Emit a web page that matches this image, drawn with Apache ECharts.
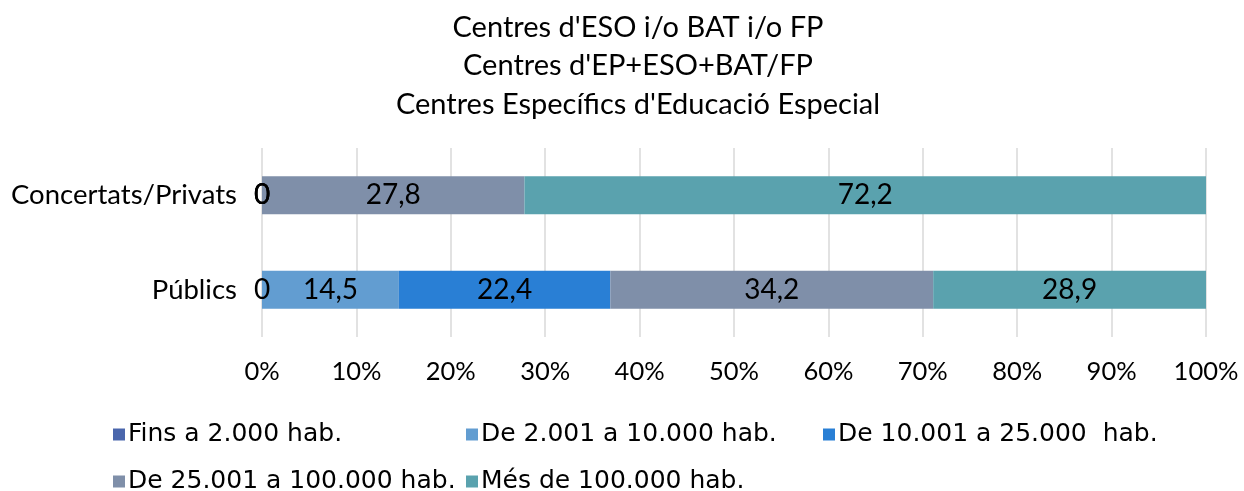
<!DOCTYPE html>
<html>
<head>
<meta charset='utf-8' />
<title></title>
<style>
html, body { margin: 0; padding: 0; background: #fff; }
#chart { width: 1244px; height: 491px; }
</style>
</head>
<body>
<div id="chart"></div>
<script src="https://cdn.jsdelivr.net/npm/echarts@6/dist/echarts.min.js"></script>
<script>
// dades
var categories = ['Públics', 'Concertats/Privats'];
var seriesNames = ['Fins a 2.000 hab.', 'De 2.001 a 10.000 hab.', 'De 10.001 a 25.000  hab.', 'De 25.001 a 100.000 hab.', 'Més de 100.000 hab.'];
var fins2000 = [0, 0];
var de2001 = [14.5, 0];
var de10001 = [22.4, 0];
var de25001 = [34.2, 27.8];
var mesDe100000 = [28.9, 72.2];
var xTicks = [0, 10, 20, 30, 40, 50, 60, 70, 80, 90, 100];

var colors = ['#4a66ac', '#629dd1', '#297fd5', '#7f8fa9', '#5aa2ae'];
var values = [fins2000, de2001, de10001, de25001, mesDe100000];
var fontA = 'Lato';          // títol, categories, etiquetes
var fontB = 'DejaVu Sans';   // llegenda

var myChart = echarts.init(document.getElementById('chart'));

var series = [];
for (var i = 0; i < seriesNames.length; i++) {
  series.push({
    name: seriesNames[i],
    type: 'bar',
    stack: 'total',
    barWidth: 38,
    data: values[i],
    itemStyle: { color: colors[i] },
    label: {
      show: true,
      position: 'inside',
      color: '#000',
      fontFamily: fontA,
      fontSize: 28,
      formatter: function (p) { return String(p.value).replace('.', ','); }
    }
  });
}

// llegenda en dues files
var legendPos = [[108, 417], [461, 417], [818, 417], [108, 464], [461, 464]];
var legends = [];
for (var j = 0; j < seriesNames.length; j++) {
  legends.push({
    data: [seriesNames[j]],
    left: legendPos[j][0],
    top: legendPos[j][1],
    itemWidth: 12,
    itemHeight: 12,
    itemGap: 4,
    icon: 'rect',
    textStyle: { fontFamily: fontB, fontSize: 25, color: '#000', padding: [0, 0, 0, -2] }
  });
}

var option = {
  animation: false,
  title: {
    text: "Centres d'ESO i/o BAT i/o FP\nCentres d'EP+ESO+BAT/FP\nCentres Específics d'Educació Especial",
    left: 633,
    textAlign: 'center',
    top: 3,
    textStyle: { fontFamily: fontA, fontSize: 29, fontWeight: 'normal', color: '#000', lineHeight: 38.5 }
  },
  legend: legends,
  grid: { left: 262, right: 38, top: 148, bottom: 154 },
  xAxis: {
    type: 'value',
    min: xTicks[0],
    max: xTicks[xTicks.length - 1],
    interval: 10,
    axisLine: { show: false },
    axisTick: { show: false },
    splitLine: { lineStyle: { color: '#d9d9d9', width: 1.5 } },
    axisLabel: { formatter: '{value}%', fontFamily: fontA, fontSize: 25.5, color: '#000', margin: 22 }
  },
  yAxis: {
    type: 'category',
    data: categories,
    axisLine: { show: false },
    axisTick: { show: false },
    axisLabel: { fontFamily: fontA, fontSize: 27.5, color: '#000', margin: 25 }
  },
  series: series
};

myChart.setOption(option);
</script>
</body>
</html>
